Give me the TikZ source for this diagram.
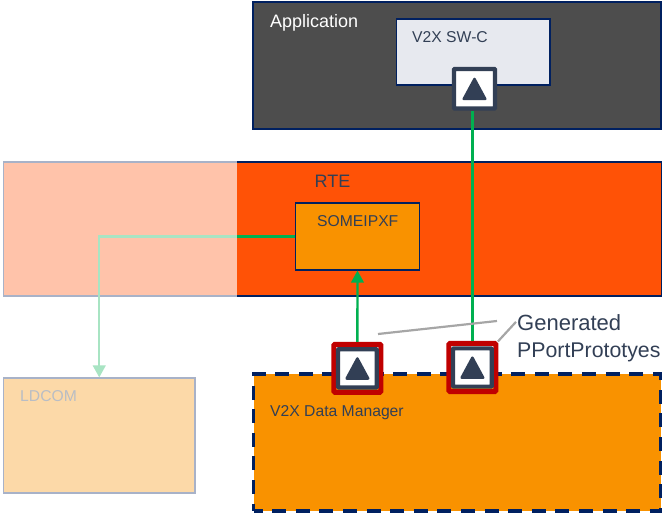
\documentclass[tikz,border=0pt]{standalone}
\usepackage{fontspec}
\setmainfont{Liberation Sans}
\usetikzlibrary{arrows.meta}
\definecolor{navy}{HTML}{002060}
\definecolor{slate}{HTML}{323F55}
\definecolor{darkbg}{HTML}{4D4D4D}
\definecolor{swc}{HTML}{E7E9EF}
\definecolor{rtecol}{HTML}{FF5206}
\definecolor{orangecol}{HTML}{F99200}
\definecolor{conn}{HTML}{00B050}
\definecolor{leader}{HTML}{A6A6A6}
\definecolor{redcol}{HTML}{C00000}
\tikzset{
  box/.style={draw=navy,line width=1.1pt,minimum width=#1,inner sep=0pt},
  lab/.style={anchor=base west,inner sep=0pt,text=slate,font=\fontsize{15.7}{18}\selectfont},
  biglab/.style={lab,font=\fontsize{18}{20}\selectfont},
  port/.style={draw=slate,fill=white,line width=4.2pt,rounded corners=0.6pt,minimum width=41pt,minimum height=39.6pt,inner sep=0pt},
  genport/.style={port,minimum width=38.7pt,minimum height=38.2pt},
  halo/.style={draw=redcol,line width=5pt,rounded corners=1pt,minimum width=47pt,minimum height=48pt,inner sep=0pt},
  wire/.style={draw=conn,line width=2.4pt},
  tip/.style={-{Triangle[length=12pt,width=12.5pt]}},
  leadline/.style={draw=leader,line width=2.2pt},
}
\newcommand{\porttri}[1]{\fill[slate,draw=slate,line width=2.5pt,line join=round]
  ([shift={(-10.8,10.2)}]#1.center) -- ([shift={(10.8,10.2)}]#1.center) -- ([shift={(0,-9.8)}]#1.center) -- cycle;}
\begin{document}
\begin{tikzpicture}[x=1pt,y=-1pt]
\useasboundingbox (0,0) rectangle (662,513);
% Application layer
\node[box,fill=darkbg,minimum width=408pt,minimum height=127pt] (app) at (457,65.5) {};
\node[box,fill=swc,minimum width=153.5pt,minimum height=66pt] (swc) at (473.25,52) {};
\node[biglab,text=white] (applab) at (270,28) {Application};
\node[lab] (swclab) at (412,43) {V2X SW-C};
% RTE layer
\node[box,fill=rtecol,minimum width=658pt,minimum height=134pt] (rte) at (332.5,229) {};
\node[biglab] (rtelab) at (314.5,188) {RTE};
\node[box,fill=orangecol,minimum width=124pt,minimum height=67pt] (xf) at (357.5,236.5) {};
\node[lab] (xflab) at (317,226.5) {SOMEIPXF};
% LDCOM
\node[box,fill=orangecol,minimum width=191.5pt,minimum height=115pt] (ld) at (99.25,435.5) {};
\node[lab] (ldlab) at (20,401.5) {LDCOM};
% Data manager
\node[draw=navy,fill=orangecol,line width=3.4pt,dash pattern=on 14pt off 9.6pt,dash phase=5pt,minimum width=407pt,minimum height=137pt,inner sep=0pt] (dm) at (457,442.5) {};
\node[lab] (dmlab) at (270,416) {V2X Data Manager};
% Ports
\node[port] (p0) at (474.5,88.8) {};
\node[halo] (h1) at (357.4,368.3) {};
\node[genport] (p1) at (357.4,368.3) {};
\node[halo] (h2) at (472.4,367.5) {};
\node[genport] (p2) at (472.4,367.5) {};
\porttri{p0}
\porttri{p1}
\porttri{p2}
% Connectors
\draw[wire] (p0.south -| h2.north) -- (h2.north);
\draw[wire,tip] (h1.north) -- (xf.south);
\draw[wire,tip] (xf.west) -| (ld.north);
% Generated label
\node[anchor=base west,inner sep=0pt,text=slate,font=\fontsize{22}{27}\selectfont,align=left] (gen) at (517,357) {Generated\\{\fontsize{21.3}{27}\selectfont PPortPrototyes}};
\coordinate (la) at (378,334);
\coordinate (lb) at (497,321);
\draw[leadline] (la) -- (lb);
\draw[leadline] ([shift={(-0.5,0.5)}]h2.north east) -- ([shift={(-1,8)}]gen.north west);
% Fade of the left-hand part
\fill[white,opacity=0.66] (0,158) rectangle (237,513);
\end{tikzpicture}
\end{document}
